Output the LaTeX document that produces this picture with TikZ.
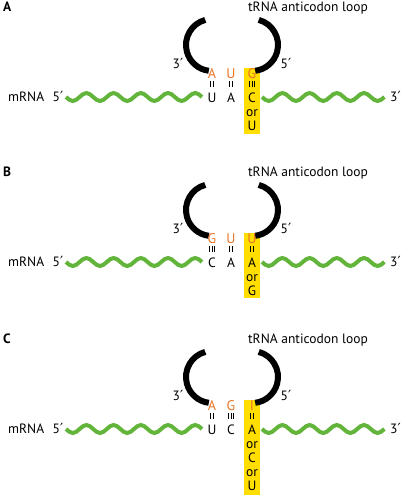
\documentclass[tikz,border=0pt]{standalone}
\usepackage{fontspec}
\setmainfont{PT Sans}
\newfontfamily\primefont{DejaVu Sans}
\usepackage{tikz}

\definecolor{mgreen}{RGB}{98,180,58}
\definecolor{anticodon}{RGB}{234,116,38}
\definecolor{wobble}{RGB}{255,222,0}
\newcommand{\prm}{{\primefont\fontsize{14}{15}\selectfont\char"2032}}

\begin{document}
\begin{tikzpicture}[x=1pt, y=1pt,
    every node/.style={inner sep=0pt, font=\fontsize{13.5}{15}\selectfont},
    base/.style={text height=9.5pt, text depth=0pt},
    anti/.style={base, text=anticodon, font=\fontsize{14}{15}\selectfont},
    loopline/.style={line width=6pt},
    mrna/.style={line width=4pt, draw=mgreen},
    bond/.style={line width=0.8pt, shorten <=2pt, shorten >=6pt}]
    \useasboundingbox (0,0) rectangle (402,-495);

    % one panel per wobble rule
    \foreach \p/\dy/\ta/\tb/\tc/\ba/\bb/\bc/\na/\nb/\nc/\extra/\bot in
        {A/0/A/U/G/U/A/C/2/2/3/{or,U}/134,
         B/165/G/U/U/C/A/A/3/2/2/{or,G}/133,
         C/332/A/G/I/U/C/A/2/3/2/{or,C,or,U}/163}{
    \begin{scope}[yshift=-\dy pt]
        \node[base, anchor=west, font=\fontsize{13.5}{15}\selectfont\bfseries] (\p-lab) at (3,-7) {\p};
        \node[base] (\p-trna) at (308,-7) {tRNA anticodon loop};

        \fill[wobble] (244,-68) rectangle (260,-\bot);

        \draw[loopline] (212,-45) ++(105:26) arc (105:263:26);
        \draw[loopline] (252,-45) ++(75:26) arc (75:-83:26);
        \node[base] (\p-l3) at (178,-64) {3\prm};
        \node[base] (\p-l5) at (286,-64) {5\prm};

        \node[anti] (\p-t1) at (212,-74) {\ta};
        \node[anti] (\p-t2) at (231,-74) {\tb};
        \node[anti] (\p-t3) at (252,-74) {\tc};
        \node[base] (\p-b1) at (212,-98) {\ba};
        \node[base] (\p-b2) at (231,-98) {\bb};
        \node[base] (\p-b3) at (252,-98) {\bc};
        \foreach \w [count=\j] in \extra
            \node[base] (\p-x\j) at (252,{-98-14*\j}) {\w};

        \foreach \i/\n in {1/\na,2/\nb,3/\nc}{
            \ifnum\n=3 \def\offs{-2.8,0,2.8}\else\def\offs{-1.4,1.4}\fi
            \foreach \o in \offs
                \draw[bond] ([xshift=\o pt]\p-t\i.south) -- ([xshift=\o pt]\p-b\i.north);
        }

        \node[base, anchor=west] (\p-m) at (8,-97) {mRNA};
        \node[base] (\p-m5) at (58,-97) {5\prm};
        \node[base, anchor=west] (\p-m3) at (390,-97) {3\prm};
        \coordinate (\p-w1) at (66,-97);
        \coordinate (\p-w2) at (262,-97);
        \draw[mrna] (\p-w1) \foreach \k in {1,...,5}{
            sin ++(6.8,-4) cos ++(6.8,4) sin ++(6.8,4) cos ++(6.8,-4)};
        \draw[mrna] (\p-w2) \foreach \k in {1,...,4}{
            sin ++(6.8,-4) cos ++(6.8,4) sin ++(6.8,4) cos ++(6.8,-4)}
            sin ++(6.8,-4) cos ++(6.8,4);
    \end{scope}
    }
\end{tikzpicture}
\end{document}
